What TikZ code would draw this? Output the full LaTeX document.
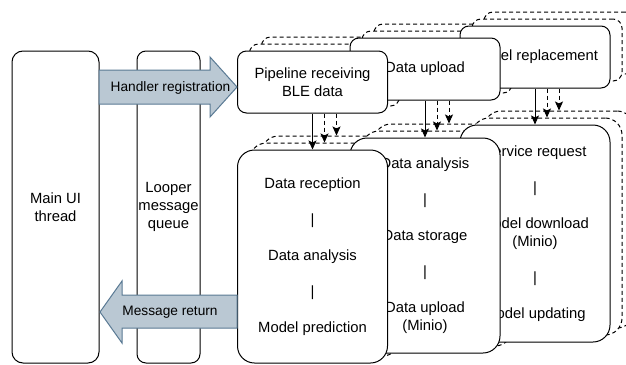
\documentclass[tikz,border=0pt]{standalone}
\usepackage{fontspec}
\setmainfont{Liberation Sans}
\usetikzlibrary{arrows.meta}
\definecolor{arrowfill}{HTML}{BAC8D3}
\definecolor{arrowdraw}{HTML}{5A7A94}
\newcommand\bxfont{\fontsize{14.8}{18}\selectfont}
\newcommand\arfont{\fontsize{13.7}{16}\selectfont}
\tikzset{
  box/.style={draw, fill=white, line width=1pt, inner sep=0pt, align=center, font=\bxfont},
  topbox/.style={box, minimum width=150pt, minimum height=62pt, rounded corners=9pt},
  tallbox/.style={box, minimum width=150pt, rounded corners=17pt},
  ghost/.style={dash pattern=on 4pt off 3pt},
  flow/.style={-{Stealth[length=9pt,width=8pt,inset=2pt]}, line width=1pt},
  bigarrow/.style={fill=arrowfill, draw=arrowdraw, line width=1pt},
  arlabel/.style={font=\arfont, inner sep=0pt}
}
\begin{document}
\begin{tikzpicture}[x=1pt,y=-1pt]
\useasboundingbox (0,0) rectangle (626,364);
\clip (0,0) rectangle (626,364);

% ---- layer 2 (farthest dashed copies)
\node[topbox,ghost] (t3b) at (559,43) {};
\node[tallbox,ghost,minimum height=217pt] (b3b) at (559,219.5) {};
\draw[flow,ghost] (t3b.south) -- (b3b.north);
\node[topbox,ghost] (t2b) at (449,55) {};
\node[tallbox,ghost,minimum height=215pt] (b2b) at (449,231.5) {};
\draw[flow,ghost] (t2b.south) -- (b2b.north);
\node[topbox,ghost] (t1b) at (336.5,68) {};
\node[tallbox,ghost,minimum height=213pt] (b1b) at (336.5,242.5) {};
\draw[flow,ghost] (t1b.south) -- (b1b.north);

% ---- layer 1 (nearer dashed copies)
\node[topbox,ghost] (t3a) at (547,50) {};
\node[tallbox,ghost,minimum height=217pt] (b3a) at (547,226.5) {};
\draw[flow,ghost] (t3a.south) -- (b3a.north);
\node[topbox,ghost] (t2a) at (437,62) {};
\node[tallbox,ghost,minimum height=215pt] (b2a) at (437,238.5) {};
\draw[flow,ghost] (t2a.south) -- (b2a.north);
\node[topbox,ghost] (t1a) at (324.5,75) {};
\node[tallbox,ghost,minimum height=213pt] (b1a) at (324.5,249.5) {};
\draw[flow,ghost] (t1a.south) -- (b1a.north);

% ---- layer 0 (solid boxes)
\node[topbox] (t3) at (535,57) {Model replacement};
\node[tallbox,minimum height=217pt] (b3) at (535,233.5)
  {Service request\\[18pt]|\\[18pt]Model download\\(Minio)\\[18pt]|\\[18pt]Model updating};
\draw[flow] (t3.south) -- (b3.north);
\node[topbox] (t2) at (425,69) {Data upload};
\node[tallbox,minimum height=215pt] (b2) at (425,245.5)
  {Data analysis\\[18pt]|\\[18pt]Data storage\\[18pt]|\\[18pt]Data upload\\(Minio)};
\draw[flow] (t2.south) -- (b2.north);
\node[topbox] (t1) at (312.5,82) {Pipeline receiving\\BLE data};
\node[tallbox,minimum height=213pt] (b1) at (312.5,256.5)
  {Data reception\\[18pt]|\\[18pt]Data analysis\\[18pt]|\\[18pt]Model prediction};
\draw[flow] (t1.south) -- (b1.north);

% ---- thread columns
\node[box, rounded corners=11pt, minimum width=87pt, minimum height=312pt] (main) at (55.5,207) {Main UI\\thread};
\node[box, rounded corners=9pt, minimum width=63pt, minimum height=312pt] (looper) at (168.5,207) {Looper\\message\\queue};

% ---- big arrows
\draw[bigarrow] (99,70) -- (210,70) -- (210,57) -- (237,87) -- (210,117) -- (210,104) -- (99,104) -- cycle;
\node[arlabel] (hr) at (170.5,88) {Handler registration};
\draw[bigarrow] (237,295) -- (122,295) -- (122,281) -- (100,312) -- (122,343) -- (122,328) -- (237,328) -- cycle;
\node[arlabel] (mr) at (170,312) {Message return};
\end{tikzpicture}
\end{document}
